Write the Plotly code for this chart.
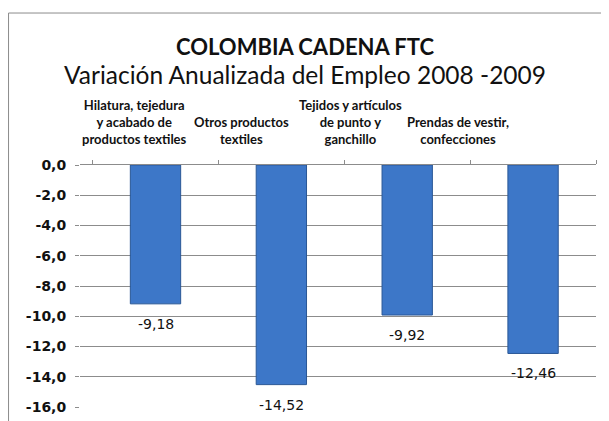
import plotly.graph_objects as go

categories = [
    "Hilatura, tejedura<br>y acabado de<br>productos textiles",
    "Otros productos<br>textiles",
    "Tejidos y artículos<br>de punto y<br>ganchillo",
    "Prendas de vestir,<br>confecciones",
]
values = [-9.18, -14.52, -9.92, -12.46]
y_tick_vals = [0, -2, -4, -6, -8, -10, -12, -14, -16]
y_tick_text = ["0,0", "-2,0", "-4,0", "-6,0", "-8,0", "-10,0", "-12,0", "-14,0", "-16,0"]
bar_labels = [f"{v:.2f}".replace(".", ",") for v in values]

FONT = "Lato"
label_shifts = [-21, -40, -57, -75]

fig = go.Figure()
fig.add_trace(go.Bar(
    x=categories, y=values,
    width=0.40,
    marker=dict(color="#3d77c8", line=dict(color="#2a5796", width=1)),
    cliponaxis=False,
))

annotations = [
    dict(text="<b>COLOMBIA CADENA FTC</b>", xref="paper", yref="paper",
         x=0.436, y=1.4917, xanchor="center", yanchor="middle", showarrow=False,
         font=dict(family=FONT, size=22, color="#111111")),
    dict(text="Variación Anualizada del Empleo 2008 -2009", xref="paper", yref="paper",
         x=0.436, y=1.372, xanchor="center", yanchor="middle", showarrow=False,
         font=dict(family=FONT, size=24.5, color="#111111")),
]
for cat, sh in zip(categories, label_shifts):
    annotations.append(dict(
        text=f"<b>{cat}</b>", x=cat, xref="x", y=1, yref="paper",
        xanchor="center", yanchor="bottom", xshift=sh, yshift=16,
        showarrow=False, align="center",
        font=dict(family=FONT, size=13, color="#111111"),
    ))
for cat, v, lab in zip(categories, values, bar_labels):
    annotations.append(dict(
        text=lab, x=cat, xref="x", y=v, yref="y",
        xanchor="center", yanchor="middle", yshift=-20,
        showarrow=False,
        font=dict(family="DejaVu Sans", size=14, color="#111111"),
    ))

border = dict(color="#8c8c8c", width=1)
fig.update_layout(
    width=609, height=421,
    margin=dict(l=72, r=21, t=157, b=22),
    paper_bgcolor="white", plot_bgcolor="white",
    showlegend=False,
    font=dict(family=FONT, color="#111111"),
    xaxis=dict(
        side="top", type="category", automargin=False,
        showticklabels=False,
        showline=True, linecolor="#8c8c8c", linewidth=1,
        ticks="outside", ticklen=4, tickcolor="#8c8c8c", tickson="boundaries",
        showgrid=False,
    ),
    yaxis=dict(
        range=[-16, 0], tickvals=y_tick_vals, ticktext=y_tick_text, automargin=False,
        tickfont=dict(family="DejaVu Sans", size=14, color="#111111", weight="bold"),
        showgrid=True, gridcolor="#8c8c8c", gridwidth=1,
        ticks="outside", ticklen=4, tickcolor="#8c8c8c", ticklabelstandoff=6,
        showline=False, zeroline=False,
    ),
    annotations=annotations,
    shapes=[
        dict(type="line", xref="paper", yref="paper",
             x0=-0.1385, y0=1.628, x1=1.06, y1=1.628, line=border),
        dict(type="line", xref="paper", yref="paper",
             x0=-0.1385, y0=1.628, x1=-0.1385, y1=-0.09, line=border),
    ],
)

fig.write_html("out.html")
